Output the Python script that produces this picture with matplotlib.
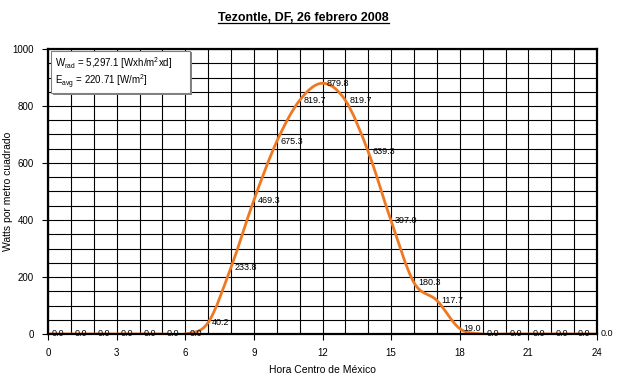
import numpy as np
import matplotlib
matplotlib.use("Agg")
import matplotlib.pyplot as plt
from matplotlib.path import Path
from matplotlib.patches import PathPatch, Rectangle
from matplotlib.lines import Line2D

plt.rcParams['font.family'] = ['Liberation Sans', 'DejaVu Sans']
plt.rcParams['mathtext.fontset'] = 'custom'
plt.rcParams['mathtext.rm'] = 'Liberation Sans'
plt.rcParams['mathtext.it'] = 'Liberation Sans'

# =======================
# data
# =======================
hours = list(range(25))
watts = [0.0, 0.0, 0.0, 0.0, 0.0, 0.0, 0.0, 40.2, 233.8, 469.3, 675.3, 819.7,
         879.8, 819.7, 639.3, 397.0, 180.3, 117.7, 19.0, 0.0, 0.0, 0.0, 0.0, 0.0, 0.0]
xticks = [0, 3, 6, 9, 12, 15, 18, 21, 24]
yticks = [0, 200, 400, 600, 800, 1000]
title = "Tezontle, DF, 26 febrero 2008"
box_lines = [r"W$_{\mathrm{rad}}$ = 5,297.1 [Wxh/m$^2$xd]",
             r"E$_{\mathrm{avg}}$ = 220.71 [W/m$^2$]"]

orange = "#F07820"

fig = plt.figure(figsize=(6.27, 3.76), dpi=100)
ax = fig.add_axes([48/627, 42/376, 549/627, 285/376])


# --- smoothed line (Excel style bezier through the points) ---
def smooth_path(x, y):
    x = np.asarray(x, float)
    y = np.asarray(y, float)
    verts = [(x[0], y[0])]
    codes = [Path.MOVETO]
    n = len(x)
    for i in range(n - 1):
        p0 = i - 1 if i > 0 else i
        p3 = i + 2 if i + 2 < n else i + 1
        c1 = (x[i] + (x[i+1] - x[p0]) / 6, y[i] + (y[i+1] - y[p0]) / 6)
        c2 = (x[i+1] - (x[p3] - x[i]) / 6, y[i+1] - (y[p3] - y[i]) / 6)
        verts += [c1, c2, (x[i+1], y[i+1])]
        codes += [Path.CURVE4] * 3
    return Path(verts, codes)


ax.add_patch(PathPatch(smooth_path(hours, watts), fill=False, edgecolor=orange,
                       lw=2.0, zorder=3, capstyle='round'))

for h, w in zip(hours, watts):
    ax.annotate(f"{w:.1f}", (h, w), xytext=(4, 0), textcoords='offset pixels',
                ha='left', va='center', fontsize=6.5, zorder=4,
                annotation_clip=False)

ax.set_xlim(0, 24)
ax.set_ylim(0, 1000)
ax.set_xticks(xticks)
ax.set_yticks(yticks)
ax.set_xticks(range(25), minor=True)
ax.set_yticks(range(0, 1001, 50), minor=True)
ax.tick_params(which='major', direction='out', length=4, width=0.8, labelsize=7, pad=6)
ax.tick_params(which='minor', length=0)
ax.grid(which='both', color='black', lw=0.8, zorder=1)
ax.set_axisbelow(True)
for s in ax.spines.values():
    s.set_linewidth(1.6)
    s.set_zorder(5)

ax.set_xlabel("Hora Centro de México", fontsize=7.5, labelpad=5)
ax.set_ylabel("Watts por metro cuadrado", fontsize=7.5)
ax.yaxis.set_label_coords(-0.063, 0.5)

# --- info box ---
shadow = Rectangle((0.009, 0.838), 0.254, 0.15, transform=ax.transAxes,
                   facecolor='#808080', edgecolor='none', zorder=6)
box = Rectangle((0.005, 0.846), 0.254, 0.147, transform=ax.transAxes,
                facecolor='white', edgecolor='#808080', lw=0.8, zorder=7)
ax.add_patch(shadow)
ax.add_patch(box)
ax.text(0.012, 0.95, box_lines[0], transform=ax.transAxes, fontsize=7,
        va='center', zorder=8)
ax.text(0.012, 0.885, box_lines[1], transform=ax.transAxes, fontsize=7,
        va='center', zorder=8)

# --- title, underlined ---
t = fig.text(0.484, 1 - 18/376, title, ha='center', va='center',
             fontsize=9, fontweight='bold', family=['Liberation Sans Narrow', 'Liberation Sans'])
fig.canvas.draw()
bb = t.get_window_extent().transformed(fig.transFigure.inverted())
fig.add_artist(Line2D([bb.x0, bb.x1], [bb.y0 + 0.002, bb.y0 + 0.002],
                      transform=fig.transFigure, color='black', lw=0.9))

fig.savefig("out.png", dpi=100)
